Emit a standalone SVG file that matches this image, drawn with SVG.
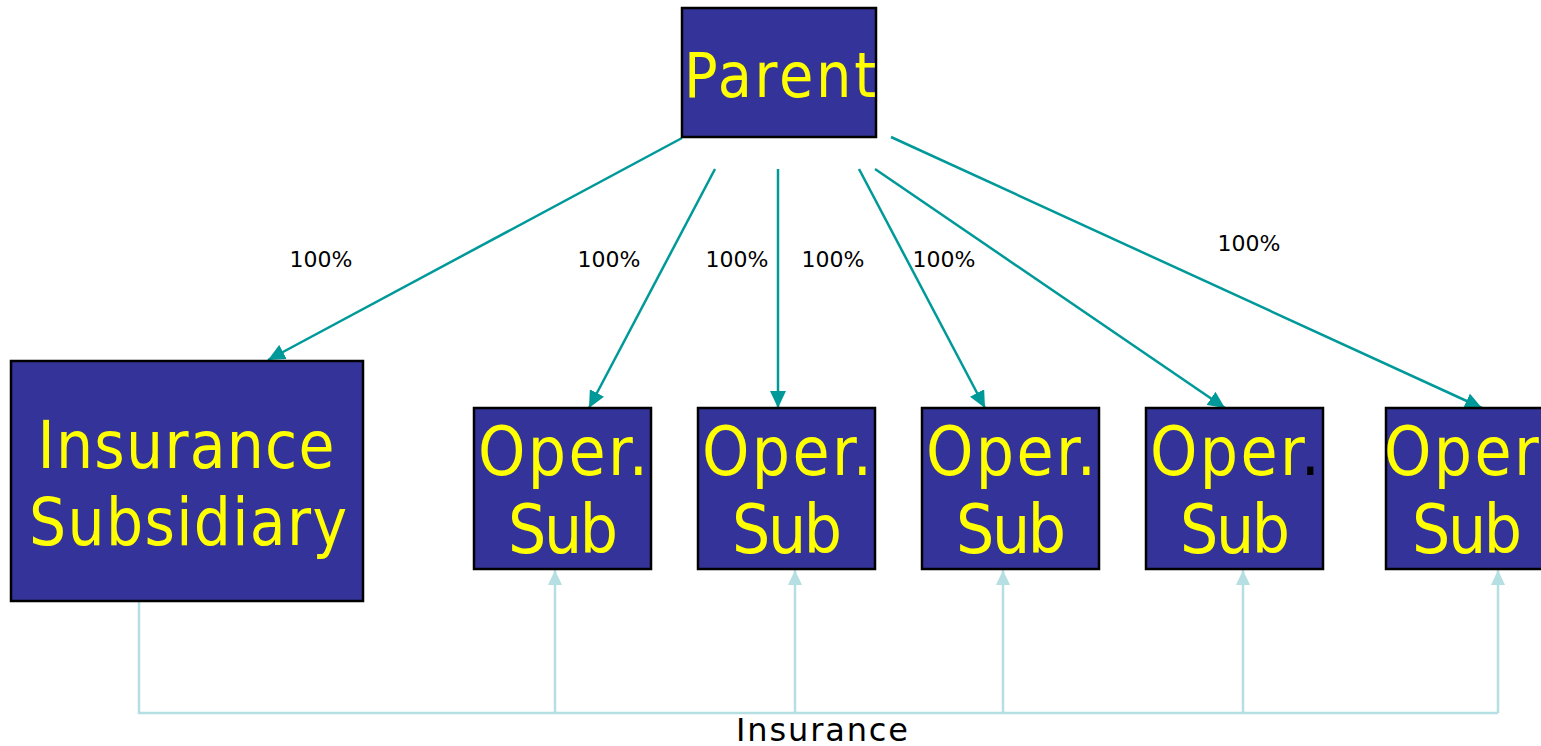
<svg xmlns="http://www.w3.org/2000/svg" width="1541" height="746" viewBox="0 0 1541 746">
<defs>
<style>
.box{fill:#333399;stroke:#000;stroke-width:2.5}
.big{font-family:"DejaVu Sans Condensed","DejaVu Sans","Liberation Sans",sans-serif;fill:#ffff00;text-anchor:middle}
.pct{font-family:"DejaVu Sans","Liberation Sans",sans-serif;font-size:22px;fill:#000;text-anchor:middle}
.own{stroke:#009999;stroke-width:2.5;fill:none;marker-end:url(#ah)}
.ins{stroke:#b5dfe2;stroke-width:2.5;fill:none}
.insa{stroke:#b5dfe2;stroke-width:2.5;fill:none;marker-end:url(#ahl)}
</style>
<marker id="ah" markerUnits="userSpaceOnUse" markerWidth="18" markerHeight="16" refX="17" refY="8" orient="auto"><path d="M0,0 L17,8 L0,16 Z" fill="#009999"/></marker>
<marker id="ahl" markerUnits="userSpaceOnUse" markerWidth="16" markerHeight="16" refX="15" refY="7" orient="auto"><path d="M0,0 L15,7 L0,14 Z" fill="#b5dfe2"/></marker>
</defs>
<g id="connectors">
<line class="own" x1="682" y1="138" x2="268" y2="360"/>
<line class="own" x1="715" y1="169" x2="589" y2="408"/>
<line class="own" x1="778" y1="169" x2="778" y2="408"/>
<line class="own" x1="859" y1="169" x2="985" y2="408"/>
<line class="own" x1="875" y1="169" x2="1225" y2="408"/>
<line class="own" x1="891" y1="137" x2="1482" y2="408"/>
<polyline class="ins" points="139,601 139,713 1498,713"/>
<line class="insa" x1="555" y1="713" x2="555" y2="570"/>
<line class="insa" x1="795" y1="713" x2="795" y2="570"/>
<line class="insa" x1="1003" y1="713" x2="1003" y2="570"/>
<line class="insa" x1="1243" y1="713" x2="1243" y2="570"/>
<line class="insa" x1="1498" y1="713" x2="1498" y2="570"/>
<text class="pct" x="321" y="267">100%</text>
<text class="pct" x="609" y="267">100%</text>
<text class="pct" x="737" y="267">100%</text>
<text class="pct" x="833" y="267">100%</text>
<text class="pct" x="944" y="267">100%</text>
<text class="pct" x="1249" y="251">100%</text>
<text x="822" y="741" font-family="DejaVu Sans, Liberation Sans, sans-serif" font-size="32" fill="#000" text-anchor="middle" textLength="172">Insurance</text>
</g>
<g id="parent">
<rect class="box" x="682" y="8" width="194" height="129"/>
<text class="big" x="780" y="97" font-size="62" textLength="192">Parent</text>
</g>
<g id="insurance-sub">
<rect class="box" x="11" y="361" width="352" height="240"/>
<text class="big" x="186" y="468" font-size="65" textLength="297">Insurance</text>
<text class="big" x="188" y="545" font-size="65" textLength="318">Subsidiary</text>
</g>
<g id="oper1">
<rect class="box" x="474" y="408" width="177" height="161"/>
<text class="big" x="563" y="475" font-size="67" textLength="170">Oper.</text>
<text class="big" x="563" y="553" font-size="67" textLength="110">Sub</text>
</g>
<g id="oper2">
<rect class="box" x="698" y="408" width="177" height="161"/>
<text class="big" x="787" y="475" font-size="67" textLength="170">Oper.</text>
<text class="big" x="787" y="553" font-size="67" textLength="110">Sub</text>
</g>
<g id="oper3">
<rect class="box" x="922" y="408" width="177" height="161"/>
<text class="big" x="1011" y="475" font-size="67" textLength="170">Oper.</text>
<text class="big" x="1011" y="553" font-size="67" textLength="110">Sub</text>
</g>
<g id="oper4">
<rect class="box" x="1146" y="408" width="177" height="161"/>
<text class="big" x="1235" y="475" font-size="67" textLength="170">Oper<tspan fill="#000">.</tspan></text>
<text class="big" x="1235" y="553" font-size="67" textLength="110">Sub</text>
</g>
<g id="oper5">
<rect class="box" x="1386" y="408" width="177" height="161"/>
<text class="big" x="1469" y="475" font-size="67" textLength="170">Oper.</text>
<text class="big" x="1467" y="553" font-size="67" textLength="110">Sub</text>
</g>
</svg>
